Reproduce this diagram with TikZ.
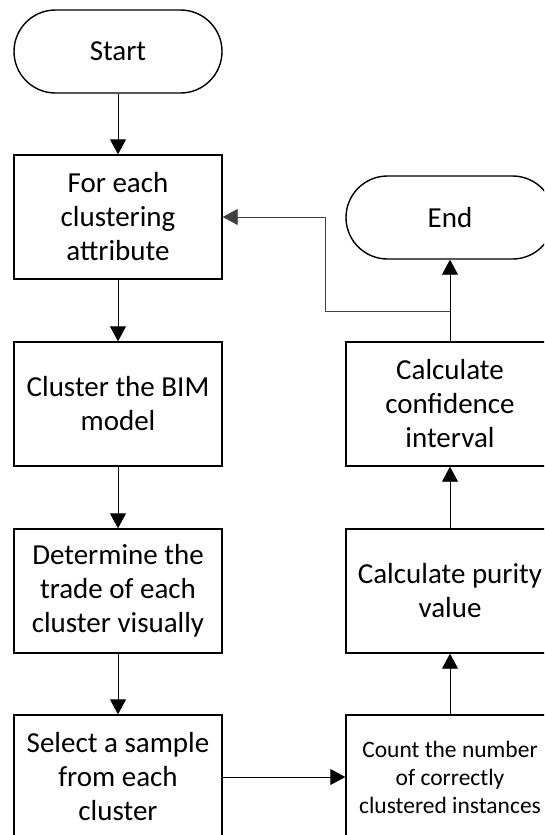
\documentclass[tikz,border=0pt]{standalone}
\usepackage{fontspec}
\setmainfont{Carlito}
\usetikzlibrary{arrows.meta}
\tikzset{
  base/.style={draw=black, line width=1.4pt, minimum width=208pt, align=center,
    font=\fontsize{29}{34}\selectfont, inner sep=0pt},
  procbox/.style={base, rectangle, minimum height=124pt},
  termbox/.style={base, rectangle, rounded corners=41.5pt, minimum height=83pt},
  smalltext/.style={font=\fontsize{23.5}{28}\selectfont},
  flow/.style={line width=0.9pt, -{Triangle[length=15pt,width=16pt]}},
  backline/.style={line width=0.9pt, draw=black!75, -{Triangle[length=15pt,width=16pt]}}
}
\begin{document}
\begin{tikzpicture}[x=1pt,y=1pt]
  \useasboundingbox (0,0) rectangle (544,-835);
  \clip (0,0) rectangle (544,-835);
  % left column
  \node[termbox] (start) at (118,-51.5) {Start};
  \node[procbox] (attr) at (118,-217) {For each\\clustering\\attribute};
  \node[procbox] (clus) at (118,-404) {Cluster the BIM\\model};
  \node[procbox] (trade) at (118,-591) {Determine the\\trade of each\\cluster visually};
  \node[procbox] (samp) at (118,-777) {Select a sample\\from each\\cluster};
  % right column
  \node[termbox] (end) at (450,-217.5) {End};
  \node[procbox] (conf) at (450,-404) {Calculate\\confidence\\interval};
  \node[procbox] (pur) at (450,-591) {Calculate purity\\value};
  \node[procbox, smalltext] (count) at (450,-777) {Count the number\\of correctly\\clustered instances};
  % main flow
  \draw[flow] (start) -- (attr);
  \draw[flow] (attr) -- (clus);
  \draw[flow] (clus) -- (trade);
  \draw[flow] (trade) -- (samp);
  \draw[flow] (samp) -- (count);
  \draw[flow] (count) -- (pur);
  \draw[flow] (pur) -- (conf);
  \draw[flow] (conf) -- (end);
  % loop back to the next attribute
  \coordinate (split) at (450,-311);
  \coordinate (bend) at (325,-311);
  \draw[backline] (split) -- (bend) |- (attr.east);
\end{tikzpicture}
\end{document}
